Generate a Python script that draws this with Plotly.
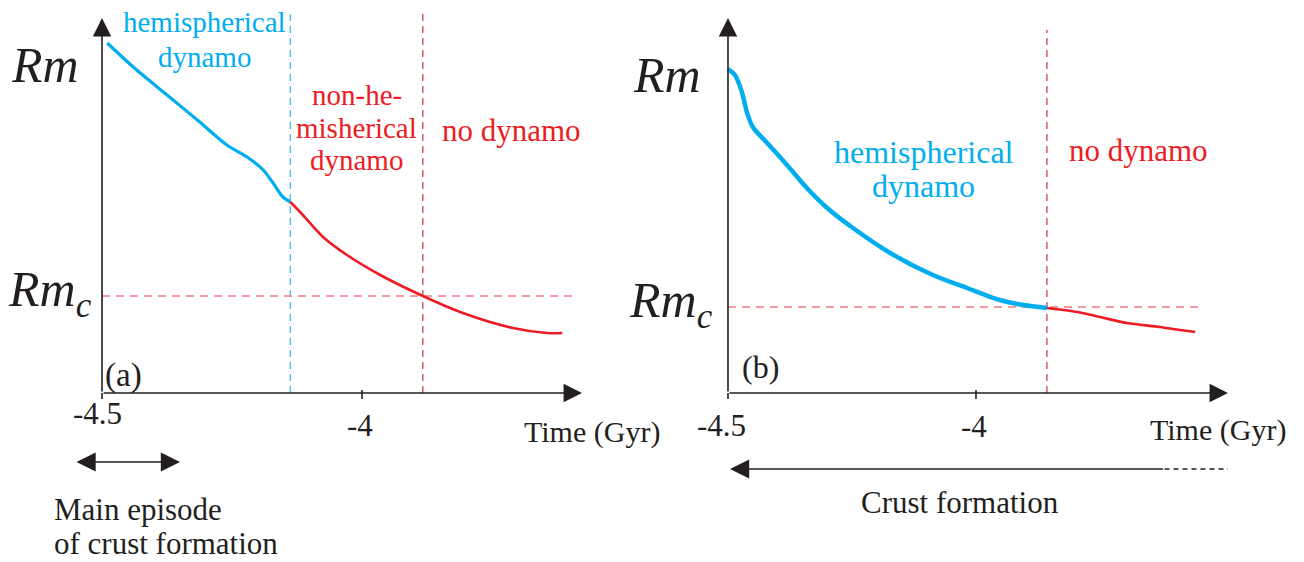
import plotly.graph_objects as go
from plotly.subplots import make_subplots

# ---- schematic data (time in Gyr, magnetic Reynolds number in arbitrary units) ----
# Panel (a): hemispherical dynamo, then non-hemispherical, then no dynamo
time_a_hemi = [-4.490, -4.440, -4.375, -4.312, -4.260, -4.221, -4.190, -4.171, -4.152, -4.138]
rm_a_hemi = [3.50, 3.26, 2.98, 2.71, 2.48, 2.36, 2.23, 2.10, 1.96, 1.91]
time_a_nonhemi = [-4.138, -4.119, -4.075, -4.029, -3.965, -3.883, -3.806, -3.710, -3.644, -3.615]
rm_a_nonhemi = [1.91, 1.81, 1.56, 1.38, 1.18, 0.97, 0.80, 0.65, 0.60, 0.60]
rmc_a = 0.97
t_hemi_end_a = -4.138
t_dynamo_end_a = -3.883

# Panel (b): hemispherical dynamo until the dynamo stops
time_b_hemi = [-4.500, -4.486, -4.472, -4.462, -4.450, -4.421, -4.381, -4.341, -4.300,
               -4.248, -4.173, -4.087, -4.018, -3.952, -3.917, -3.857]
rm_b_hemi = [3.24, 3.18, 3.01, 2.81, 2.66, 2.50, 2.28, 2.05, 1.85,
             1.65, 1.40, 1.18, 1.05, 0.93, 0.89, 0.85]
time_b_none = [-3.857, -3.796, -3.750, -3.696, -3.629, -3.589, -3.558]
rm_b_none = [0.85, 0.81, 0.76, 0.70, 0.66, 0.63, 0.61]
rmc_b = 0.86
t_dynamo_end_b = -3.857

tick_values = [-4.5, -4.0]
tick_labels = ["-4.5", "-4"]

# crust formation intervals
crust_a = [-4.552, -4.35]
crust_b_solid = [-4.496, -3.62]
crust_b_dashed = [-3.62, -3.492]

# ---- styling ----
BLUE = "#00aeef"
RED = "#ed1c24"
DARK_RED = "#c0232b"
PINK = "#f47a82"
BLUE_DASH = "#29abe2"
INK = "#231f20"
SERIF = "Liberation Serif, Times New Roman, serif"

T0 = -4.5
Y_TOP = 3.75          # top of the vertical arrow
X_TIP_A = -3.577      # tip of the time arrow, panel (a)
X_TIP_B = -3.492      # tip of the time arrow, panel (b)

fig = make_subplots(rows=1, cols=2, horizontal_spacing=0.0)

# curves
fig.add_trace(go.Scatter(x=time_a_hemi, y=rm_a_hemi, mode="lines",
                         line=dict(color=BLUE, width=3.2, shape="spline", smoothing=0.8)), 1, 1)
fig.add_trace(go.Scatter(x=time_a_nonhemi, y=rm_a_nonhemi, mode="lines",
                         line=dict(color=RED, width=2.6, shape="spline", smoothing=0.8)), 1, 1)
fig.add_trace(go.Scatter(x=time_b_none, y=rm_b_none, mode="lines",
                         line=dict(color=RED, width=2.6, shape="spline", smoothing=0.8)), 1, 2)
fig.add_trace(go.Scatter(x=time_b_hemi, y=rm_b_hemi, mode="lines",
                         line=dict(color=BLUE, width=4.5, shape="spline", smoothing=0.8)), 1, 2)

# reference lines
def vline(x, y1, color, xref, yref):
    fig.add_shape(type="line", x0=x, x1=x, y0=0, y1=y1, xref=xref, yref=yref,
                  line=dict(color=color, width=1.1, dash="7px,5px"), layer="below")

def hline(y, x1, xref, yref):
    fig.add_shape(type="line", x0=T0, x1=x1, y0=y, y1=y, xref=xref, yref=yref,
                  line=dict(color=PINK, width=1.5, dash="8px,6px"), layer="below")

vline(t_hemi_end_a, 3.83, BLUE_DASH, "x", "y")
vline(t_dynamo_end_a, 3.83, DARK_RED, "x", "y")
hline(rmc_a, -3.585, "x", "y")
vline(t_dynamo_end_b, 3.63, DARK_RED, "x2", "y2")
hline(rmc_b, -3.544, "x2", "y2")

# axes drawn as arrows
def arrow(x, y, ax, ay, xref, yref, width=1.6, size=2.3, both=False, head=2):
    fig.add_annotation(x=x, y=y, ax=ax, ay=ay, xref=xref, yref=yref, axref=xref, ayref=yref,
                       text="", showarrow=True, arrowhead=head, arrowsize=size,
                       arrowwidth=width, arrowcolor=INK,
                       arrowside="end+start" if both else "end", startarrowhead=head,
                       startarrowsize=size)

for xref, yref, xtip in (("x", "y", X_TIP_A), ("x2", "y2", X_TIP_B)):
    arrow(T0, Y_TOP, T0, 0, xref, yref)
    arrow(xtip, 0, T0, 0, xref, yref)
    for tv in tick_values:
        fig.add_shape(type="line", x0=tv, x1=tv, y0=-0.06, y1=0.03 if tv != T0 else 0,
                      xref=xref, yref=yref, line=dict(color=INK, width=1.6))

# crust formation arrows
arrow(crust_a[1], -0.69, crust_a[0], -0.69, "x", "y", width=1.6, size=2.4, both=True)
arrow(crust_b_solid[0], -0.76, crust_b_solid[1], -0.76, "x2", "y2", width=1.6, size=2.4)
fig.add_shape(type="line", x0=crust_b_dashed[0], x1=crust_b_dashed[1], y0=-0.76, y1=-0.76,
              xref="x2", yref="y2", line=dict(color=INK, width=1.5, dash="5px,4px"))

def text(x, y, s, xref, yref, color=INK, size=30, xanchor="center"):
    fig.add_annotation(x=x, y=y, text=s, xref=xref, yref=yref, showarrow=False,
                       font=dict(family=SERIF, size=size, color=color),
                       xanchor=xanchor, yanchor="middle")

def lines(x, ys, rows, xref, yref, **kw):
    for y, s in zip(ys, rows):
        text(x, y, s, xref, yref, **kw)

RM = "<i>Rm</i>"
RMC = "<i>Rm</i><sub><i>c</i></sub>"

# panel (a) labels
text(-4.610, 3.28, RM, "x", "y", size=50)
text(-4.600, 1.00, RMC, "x", "y", size=50)
lines(-4.302, [3.71, 3.36], ["hemispherical", "dynamo"], "x", "y", color=BLUE, size=29)
lines(-4.010, [2.98, 2.65, 2.33], ["non-he-", "misherical", "dynamo"], "x", "y",
      color=RED, size=29)
text(-3.713, 2.63, "no dynamo", "x", "y", color=RED, size=31)
text(-4.458, 0.18, "(a)", "x", "y", size=33)
text(-4.508, -0.20, tick_labels[0], "x", "y", size=31)
text(-4.004, -0.32, tick_labels[1], "x", "y", size=31)
text(-3.558, -0.39, "Time (Gyr)", "x", "y", size=30)
lines(-4.596, [-1.16, -1.50], ["Main episode", "of crust formation"], "x", "y",
      xanchor="left", size=31)

# panel (b) labels
text(-4.623, 3.18, RM, "x2", "y2", size=50)
text(-4.615, 0.89, RMC, "x2", "y2", size=50)
lines(-4.105, [2.41, 2.07], ["hemispherical", "dynamo"], "x2", "y2", color=BLUE, size=32)
text(-3.673, 2.43, "no dynamo", "x2", "y2", color=RED, size=31)
text(-4.435, 0.26, "(b)", "x2", "y2", size=32)
text(-4.514, -0.32, tick_labels[0], "x2", "y2", size=31)
text(-4.004, -0.33, tick_labels[1], "x2", "y2", size=31)
text(-3.512, -0.37, "Time (Gyr)", "x2", "y2", size=30)
text(-4.032, -1.09, "Crust formation", "x2", "y2", size=31)

# axis ranges chosen so both panels share the same vertical scale
fig.update_xaxes(visible=False)
fig.update_yaxes(visible=False, range=[-1.69, 3.93])
fig.update_xaxes(range=[-4.6962, -3.4423], domain=[0.0, 0.5], row=1, col=1)
fig.update_xaxes(range=[-4.6532, -3.3387], domain=[0.5, 1.0], row=1, col=2)

fig.update_layout(width=1304, height=562, margin=dict(l=0, r=0, t=0, b=0),
                  paper_bgcolor="white", plot_bgcolor="white", showlegend=False)

fig.write_html("out.html")
